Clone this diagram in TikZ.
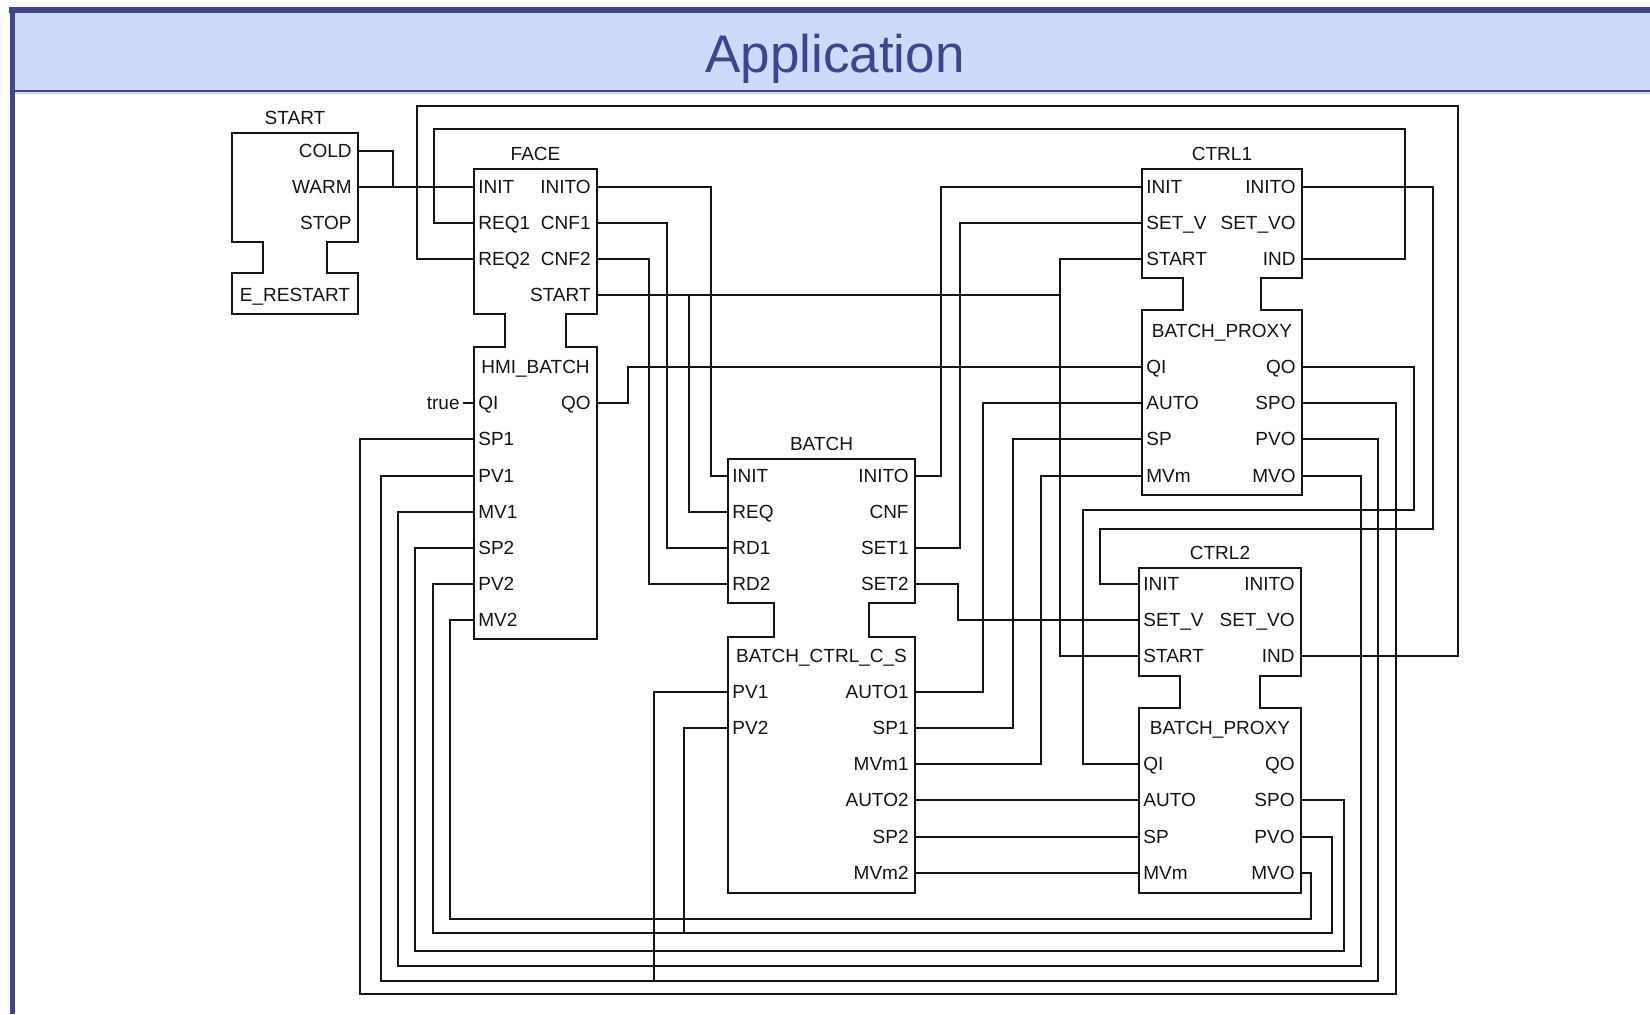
\documentclass[tikz,border=0pt]{standalone}
\usepackage{fontspec}
\setmainfont{Liberation Sans}
\usetikzlibrary{calc}
\definecolor{ink}{RGB}{20,20,20}
\definecolor{navy}{RGB}{62,68,142}
\definecolor{haze}{RGB}{205,218,250}
\newcommand\fbfont{\fontsize{9.5}{10}\selectfont}
\newcommand\ry[1]{round(186.7+36.1*(#1))}
\tikzset{
  wire/.style={draw=ink,line width=1pt},
  fb/.style={wire,fill=white},
  fbtext/.style={font=\fbfont,text=ink,inner sep=0pt,text height=6.8pt,text depth=0pt},
  inport/.style={fbtext,anchor=west,xshift=2pt},
  outport/.style={fbtext,anchor=east,xshift=-3pt},
  fbname/.style={fbtext},
}
% function block: id, title, left, right, notch, top, upper bottom, lower top, bottom
\newcommand\funcblock[9]{%
  \draw[fb] (#3,#6) -- (#4,#6) -- (#4,#7) -- ({#4-#5},#7) -- ({#4-#5},#8) -- (#4,#8)
    -- (#4,#9) -- (#3,#9) -- (#3,#8) -- ({#3+#5},#8) -- ({#3+#5},#7) -- (#3,#7) -- cycle;
  \node[fbname] (#1-name) at ({(#3+#4)/2},{#6-15}) {#2};
}

\begin{document}
\begin{tikzpicture}[x=0.5pt,y=-0.5pt]
  \useasboundingbox (0,0) rectangle (1650,1014);
  \fill[haze] (12,11) rectangle (1650,94);
  \draw[navy,line width=0.75pt] (12,91) -- (1650,91);
  \draw[navy,line width=3pt] (9,10) -- (1650,10);
  \draw[navy,line width=2.5pt] (12,7) -- (12,1014);
  \node[font=\fontsize{26.5}{32}\selectfont,text=navy,anchor=base] (apptitle) at (835,72) {Application};

  \funcblock{start}{START}{232}{358}{31}{133}{242}{273}{314}
  \foreach \p/\t/\r in {cold/COLD/-1,warm/WARM/0,stop/STOP/1}{
    \coordinate (start-\p) at (358,{\ry{\r}});
    \node[outport] (start-\p-txt) at (start-\p) {\t};}
  \node[fbname] (start-head) at (295,295) {E\_RESTART};

  \funcblock{face}{FACE}{474}{597}{31}{169}{314}{347}{639}
  \foreach \p/\t/\r in {init/INIT/0,req1/REQ1/1,req2/REQ2/2,qi/QI/6,sp1/SP1/7,
      pv1/PV1/8,mv1/MV1/9,sp2/SP2/10,pv2/PV2/11,mv2/MV2/12}{
    \coordinate (face-\p) at (474,{\ry{\r}});
    \node[inport] (face-\p-txt) at (face-\p) {\t};}
  \foreach \p/\t/\r in {inito/INITO/0,cnf1/CNF1/1,cnf2/CNF2/2,start/START/3,qo/QO/6}{
    \coordinate (face-\p) at (597,{\ry{\r}});
    \node[outport] (face-\p-txt) at (face-\p) {\t};}
  \node[fbname] (face-head) at (535.5,{\ry{5}}) {HMI\_BATCH};
  \node[fbtext,anchor=east,inner xsep=1.65pt] (true) at ([xshift=-5.35pt]face-qi) {true};

  \funcblock{batch}{BATCH}{728}{915}{46}{459}{603}{637}{893}
  \foreach \p/\t/\r in {init/INIT/8,req/REQ/9,rd1/RD1/10,rd2/RD2/11,pv1/PV1/14,pv2/PV2/15}{
    \coordinate (batch-\p) at (728,{\ry{\r}});
    \node[inport] (batch-\p-txt) at (batch-\p) {\t};}
  \foreach \p/\t/\r in {inito/INITO/8,cnf/CNF/9,set1/SET1/10,set2/SET2/11,auto1/AUTO1/14,
      sp1/SP1/15,mvm1/MVm1/16,auto2/AUTO2/17,sp2/SP2/18,mvm2/MVm2/19}{
    \coordinate (batch-\p) at (915,{\ry{\r}});
    \node[outport] (batch-\p-txt) at (batch-\p) {\t};}
  \node[fbname] (batch-head) at (821.5,{\ry{13}}) {BATCH\_CTRL\_C\_S};

  \funcblock{ctrl1}{CTRL1}{1142}{1302}{41}{169}{278}{310}{495}
  \funcblock{ctrl2}{CTRL2}{1139}{1301}{41}{568}{676}{708}{893}
  \foreach \b/\xl/\xr/\o in {ctrl1/1142/1302/0,ctrl2/1139/1301/11}{
    \foreach \p/\t/\r in {init/INIT/0,setv/SET\_V/1,start/START/2,qi/QI/5,
        auto/AUTO/6,sp/SP/7,mvm/MVm/8}{
      \coordinate (\b-\p) at (\xl,{\ry{\r+\o}});
      \node[inport] (\b-\p-txt) at (\b-\p) {\t};}
    \foreach \p/\t/\r in {inito/INITO/0,setvo/SET\_VO/1,ind/IND/2,qo/QO/5,
        spo/SPO/6,pvo/PVO/7,mvo/MVO/8}{
      \coordinate (\b-\p) at (\xr,{\ry{\r+\o}});
      \node[outport] (\b-\p-txt) at (\b-\p) {\t};}
    \node[fbname] (\b-head) at ({(\xl+\xr)/2},{\ry{4+\o}}) {BATCH\_PROXY};
  }

  % connections
  \draw[wire] (start-cold) -| (393,0 |- start-warm);
  \draw[wire] (start-warm) -- (face-init);
  \draw[wire] (true) -- (face-qi);
  \draw[wire] (face-req1) -| (434,129) -| (1405,0 |- ctrl1-ind) -- (ctrl1-ind);
  \draw[wire] (face-req2) -| (417,106) -| (1458,0 |- ctrl2-ind) -- (ctrl2-ind);
  \draw[wire] (face-inito) -| (711,0 |- batch-init) -- (batch-init);
  \draw[wire] (face-cnf1) -| (667,0 |- batch-rd1) -- (batch-rd1);
  \draw[wire] (face-cnf2) -| (649,0 |- batch-rd2) -- (batch-rd2);
  \draw[wire] (face-start) -| (1060,0 |- ctrl1-start) -- (ctrl1-start);
  \draw[wire] (1060,0 |- face-start) |- (ctrl2-start);
  \draw[wire] (689,0 |- face-start) |- (batch-req);
  \draw[wire] (face-qo) -| (628,0 |- ctrl1-qi) -- (ctrl1-qi);
  \draw[wire] (batch-inito) -| (941,0 |- ctrl1-init) -- (ctrl1-init);
  \draw[wire] (batch-set1) -| (960,0 |- ctrl1-setv) -- (ctrl1-setv);
  \draw[wire] (batch-set2) -| (958,0 |- ctrl2-setv) -- (ctrl2-setv);
  \draw[wire] (batch-auto1) -| (983,0 |- ctrl1-auto) -- (ctrl1-auto);
  \draw[wire] (batch-sp1) -| (1013,0 |- ctrl1-sp) -- (ctrl1-sp);
  \draw[wire] (batch-mvm1) -| (1041,0 |- ctrl1-mvm) -- (ctrl1-mvm);
  \foreach \p in {auto,sp,mvm} \draw[wire] (batch-\p2) -- (ctrl2-\p);
  \draw[wire] (ctrl1-inito) -| (1433,529) -| (1100,0 |- ctrl2-init) -- (ctrl2-init);
  \draw[wire] (ctrl1-qo) -| (1414,510) -| (1083,0 |- ctrl2-qi) -- (ctrl2-qi);
  \foreach \src/\dst/\xr/\yb/\xl in {ctrl1-spo/face-sp1/1396/994/360,
      ctrl1-pvo/face-pv1/1378/981/381, ctrl1-mvo/face-mv1/1361/966/398,
      ctrl2-spo/face-sp2/1344/951/415, ctrl2-pvo/face-pv2/1332/933/433,
      ctrl2-mvo/face-mv2/1311/919/450}
    \draw[wire] (\src) -| (\xr,\yb) -| (\xl,0 |- \dst) -- (\dst);
  \draw[wire] (batch-pv1) -| (654,981);
  \draw[wire] (batch-pv2) -| (684,933);
\end{tikzpicture}
\end{document}
